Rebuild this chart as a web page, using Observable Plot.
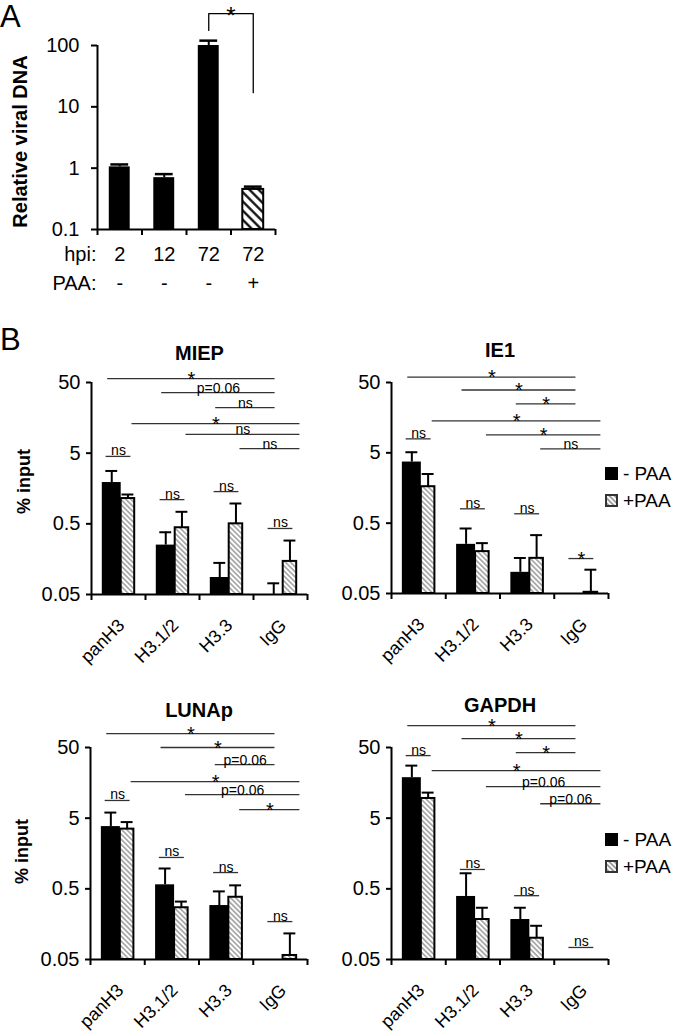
<!DOCTYPE html>
<html>
<head>
<meta charset="utf-8">
<script src="https://cdn.jsdelivr.net/npm/d3@7"></script>
<script src="https://cdn.jsdelivr.net/npm/@observablehq/plot@0.6"></script>
<style>
  body { margin: 0; background: #fff; }
  #fig { position: relative; width: 680px; height: 1033px; overflow: hidden; font-family: "Liberation Sans", Arial, sans-serif; color: #000; }
  #fig > svg { position: absolute; overflow: visible; background: transparent; }
  .plab { position: absolute; font-size: 31px; line-height: 31px; }
  .leg { position: absolute; font-size: 19px; line-height: 19px; display: flex; align-items: center; white-space: pre; }
  #fig .leg svg { position: static; margin-right: 5px; }
</style>
</head>
<body>
<div id="fig"></div>
<script>
// ---------- Panel A data ----------
const hpiLabels = ["2", "12", "72", "72"];
const paaLabels = ["-", "-", "-", "+"];
const viralDNA = [1.05, 0.70, 100, 0.45];
const viralDNAErr = [0.10, 0.10, 20, 0.05];
const viralTicks = [0.1, 1, 10, 100];
const sigAFrom = 2, sigATo = 3, sigALabel = "*";
const sigATop = 332;            // bracket height (relative viral DNA units)
const sigALegEnds = [176, 17];  // where the bracket legs end

// ---------- Panel B data ----------
const groups = ["panH3", "H3.1/2", "H3.3", "IgG"];
const inputTicks = [0.05, 0.5, 5, 50];
const compFrom = [0, 1, 2, 0, 1, 2];           // compared against IgG
const compCond = ["-", "-", "-", "+", "+", "+"];

const miepMinus = [1.92, 0.25, 0.087, 0.05];
const miepMinusErr = [0.88, 0.13, 0.053, 0.022];
const miepPlus = [1.14, 0.44, 0.50, 0.147];
const miepPlusErr = [0.16, 0.30, 0.47, 0.143];
const miepCompLabels = ["*", "p=0.06", "ns", "*", "ns", "ns"];
const miepCompLevels = [56.8, 35.9, 22.1, 13.1, 9.2, 5.8];
const miepPairLabels = ["ns", "ns", "ns", "ns"];
const miepPairLevels = [4.5, 1.1, 1.43, 0.43];

const ie1Minus = [3.7, 0.25, 0.10, null];
const ie1MinusErr = [1.4, 0.17, 0.06, null];
const ie1Plus = [1.65, 0.197, 0.158, 0.052];
const ie1PlusErr = [0.85, 0.063, 0.18, 0.057];
const ie1CompLabels = ["*", "*", "*", "*", "*", "ns"];
const ie1CompLevels = [59.8, 39.1, 24.8, 14.2, 9.0, 5.7];
const ie1PairLabels = ["ns", "ns", "ns", "*"];
const ie1PairLevels = [7.9, 0.8, 0.68, 0.157];

const lunapMinus = [3.8, 0.57, 0.29, null];
const lunapMinusErr = [2.2, 0.40, 0.17, null];
const lunapPlus = [3.5, 0.27, 0.38, 0.057];
const lunapPlusErr = [0.9, 0.06, 0.18, 0.06];
const lunapCompLabels = ["*", "*", "p=0.06", "*", "p=0.06", "*"];
const lunapCompLevels = [78.7, 50, 28.7, 16.5, 10.8, 6.6];
const lunapPairLabels = ["ns", "ns", "ns", "ns"];
const lunapPairLevels = [8.9, 1.39, 0.85, 0.172];

const gapdhMinus = [18.7, 0.39, 0.184, null];
const gapdhMinusErr = [9.0, 0.44, 0.086, null];
const gapdhPlus = [9.5, 0.184, 0.10, null];
const gapdhPlusErr = [2.0, 0.086, 0.05, null];
const gapdhCompLabels = ["*", "*", "*", "*", "p=0.06", "p=0.06"];
const gapdhCompLevels = [102, 66.8, 42.4, 23.5, 14.0, 8.0];
const gapdhPairLabels = ["ns", "ns", "ns", "ns"];
const gapdhPairLevels = [38.4, 0.94, 0.40, 0.074];

const legendLabels = ["- PAA", "+PAA"];

// ---------- helpers ----------
const FONT = '"Liberation Sans", Arial, sans-serif';
const fig = document.getElementById("fig");

function addPattern(svg, id, size, stroke, width, bg) {
  const defs = document.createElementNS("http://www.w3.org/2000/svg", "defs");
  defs.innerHTML = `<pattern id="${id}" patternUnits="userSpaceOnUse" width="${size}" height="${size}" patternTransform="rotate(-45)">
    <rect width="${size}" height="${size}" fill="${bg}"/>
    <line x1="${size/2}" y1="0" x2="${size/2}" y2="${size}" stroke="${stroke}" stroke-width="${width}"/>
  </pattern>`;
  svg.insertBefore(defs, svg.firstChild);
}

function place(svg, left, top) {
  svg.style.left = left + "px";
  svg.style.top = top + "px";
  fig.appendChild(svg);
}

function label(text, left, top) {
  const d = document.createElement("div");
  d.className = "plab";
  d.textContent = text;
  d.style.left = left + "px";
  d.style.top = top + "px";
  fig.appendChild(d);
}

// ---------- Panel A ----------
(function () {
  const bars = viralDNA.map((v, i) => ({i, v, e: viralDNAErr[i], hatched: paaLabels[i] === "+"}));
  const solid = bars.filter(d => !d.hatched);
  const hatched = bars.filter(d => d.hatched);
  const bracket = [
    {x: sigAFrom, y: sigALegEnds[0]},
    {x: sigAFrom, y: sigATop},
    {x: sigATo, y: sigATop},
    {x: sigATo, y: sigALegEnds[1]}
  ];
  const svg = Plot.plot({
    width: 300, height: 300,
    marginLeft: 97, marginRight: 25, marginTop: 45, marginBottom: 71,
    style: {fontFamily: FONT, fontSize: "20px", background: "transparent", overflow: "visible"},
    x: {domain: [-0.5, 3.5], axis: null},
    y: {type: "log", domain: [0.1, 100], axis: null, label: null},
    marks: [
      Plot.rect(solid, {x1: d => d.i - 0.235, x2: d => d.i + 0.235, y1: 0.1, y2: "v", fill: "black"}),
      Plot.rect(hatched, {x1: d => d.i - 0.235, x2: d => d.i + 0.235, y1: 0.1, y2: "v", fill: "url(#hatchA)", stroke: "black", strokeWidth: 2}),
      Plot.ruleX(bars, {x: "i", y1: "v", y2: d => d.v + d.e, stroke: "black", strokeWidth: 2}),
      Plot.ruleY(bars, {y: d => d.v + d.e, x1: d => d.i - 0.2, x2: d => d.i + 0.2, stroke: "black", strokeWidth: 2.5}),
      Plot.ruleX([-0.5], {stroke: "black", strokeWidth: 2}),
      Plot.ruleY([0.1], {stroke: "black", strokeWidth: 2}),
      Plot.axisY({ticks: viralTicks, tickFormat: () => "", tickSize: 6, strokeWidth: 2, label: null}),
      Plot.text(viralTicks, {y: d => d, text: d => String(d), frameAnchor: "left", textAnchor: "end", dx: -18, fontSize: 20}),
      Plot.axisX({ticks: [-0.5, 0.5, 1.5, 2.5, 3.5], tickFormat: () => "", tickSize: 6, strokeWidth: 2, label: null}),
      Plot.text(hpiLabels, {x: (d, i) => i, text: d => d, frameAnchor: "bottom", dy: 31, fontSize: 20}),
      Plot.text(paaLabels, {x: (d, i) => i, text: d => d, frameAnchor: "bottom", dy: 60, fontSize: 20}),
      Plot.text(["hpi:"], {text: d => d, frameAnchor: "bottom-left", textAnchor: "end", dy: 31, dx: -1, fontSize: 20}),
      Plot.text(["PAA:"], {text: d => d, frameAnchor: "bottom-left", textAnchor: "end", dy: 60, dx: -1, fontSize: 20}),
      Plot.text(["Relative viral DNA"], {text: d => d, frameAnchor: "left", textAnchor: "middle", rotate: -90, dx: -77, dy: 4, fontWeight: "bold", fontSize: 20}),
      Plot.line(bracket, {x: "x", y: "y", stroke: "black", strokeWidth: 1.3}),
      Plot.text([sigALabel], {x: () => (sigAFrom + sigATo) / 2, y: () => sigATop, text: d => d, lineAnchor: "bottom", dy: 10, fontSize: 24})
    ]
  });
  addPattern(svg, "hatchA", 6.5, "black", 2.2, "white");
  place(svg, 0, 0);
})();

// ---------- Panel B ----------
function panelB(cfg) {
  const pid = "hatch-" + cfg.id;
  const black = groups.map((g, i) => ({i, v: cfg.minus[i], e: cfg.minusErr[i]})).filter(d => d.v != null);
  const hatch = groups.map((g, i) => ({i, v: cfg.plus[i], e: cfg.plusErr[i]})).filter(d => d.v != null);
  const blackErr = black.filter(d => d.e != null);
  const hatchErr = hatch.filter(d => d.e != null);
  const comps = cfg.compLabels.map((lab, k) => ({label: lab, level: cfg.compLevels[k], from: compFrom[k], cond: compCond[k]}));
  const cx1 = d => d.from + (d.cond === "-" ? -0.2 : 0.25);
  const cx2 = d => 3 + (d.cond === "-" ? -0.1 : 0.36);
  const pairs = groups.map((g, i) => ({i, label: cfg.pairLabels[i], level: cfg.pairLevels[i]}));
  const star = d => d.label === "*";
  const cb = -0.125, ch = 0.175, cap = 0.11;
  const marks = [
    Plot.rect(black, {x1: d => d.i - 0.30, x2: d => d.i + 0.05, y1: 0.05, y2: "v", fill: "black"}),
    Plot.rect(hatch, {x1: d => d.i + 0.05, x2: d => d.i + 0.30, y1: 0.05, y2: "v", fill: `url(#${pid})`, stroke: "black", strokeWidth: 2}),
    Plot.ruleX(blackErr, {x: d => d.i + cb, y1: "v", y2: d => d.v + d.e, stroke: "black", strokeWidth: 2}),
    Plot.ruleY(blackErr, {y: d => d.v + d.e, x1: d => d.i + cb - cap, x2: d => d.i + cb + cap, stroke: "black", strokeWidth: 2}),
    Plot.ruleX(hatchErr, {x: d => d.i + ch, y1: "v", y2: d => d.v + d.e, stroke: "black", strokeWidth: 2}),
    Plot.ruleY(hatchErr, {y: d => d.v + d.e, x1: d => d.i + ch - cap, x2: d => d.i + ch + cap, stroke: "black", strokeWidth: 2}),
    Plot.ruleX([-0.5], {stroke: "black", strokeWidth: 2}),
    Plot.ruleY([0.05], {stroke: "black", strokeWidth: 2}),
    Plot.axisY({ticks: inputTicks, tickFormat: () => "", tickSize: 5, strokeWidth: 2, label: null}),
    Plot.text(inputTicks, {y: d => d, text: d => String(d), frameAnchor: "left", textAnchor: "end", dx: -11, fontSize: 20}),
    Plot.axisX({ticks: [-0.5, 0.5, 1.5, 2.5, 3.5], tickFormat: () => "", tickSize: 6, strokeWidth: 2, label: null}),
    Plot.text(groups, {x: (d, i) => i, text: d => d, frameAnchor: "bottom", rotate: -45, textAnchor: "end", dx: 7, dy: 32, fontSize: 18}),
    Plot.text([cfg.name], {text: d => d, frameAnchor: "top", dy: cfg.titleDy, fontWeight: "bold", fontSize: 20}),
    // comparisons against IgG
    Plot.ruleY(comps, {y: "level", x1: cx1, x2: cx2, stroke: "#333", strokeWidth: 1.3}),
    Plot.text(comps.filter(d => !star(d)), {x: d => (cx1(d) + cx2(d)) / 2, y: "level", text: "label", lineAnchor: "bottom", dy: 0, fontSize: 14}),
    Plot.text(comps.filter(star), {x: d => (cx1(d) + cx2(d)) / 2, y: "level", text: "label", lineAnchor: "bottom", dy: 7, fontSize: 20}),
    // -PAA vs +PAA within each antibody
    Plot.ruleY(pairs, {y: "level", x1: d => d.i - 0.23, x2: d => d.i + 0.23, stroke: "#333", strokeWidth: 1.3}),
    Plot.text(pairs.filter(d => !star(d)), {x: "i", y: "level", text: "label", lineAnchor: "bottom", dy: -1, fontSize: 14}),
    Plot.text(pairs.filter(star), {x: "i", y: "level", text: "label", lineAnchor: "bottom", dy: 7, fontSize: 20})
  ];
  if (cfg.yLabel) {
    marks.push(Plot.text([cfg.yLabel], {text: d => d, frameAnchor: "left", textAnchor: "middle", rotate: -90, dx: cfg.yLabelDx, dy: cfg.yLabelDy, fontWeight: "bold", fontSize: 18}));
  }
  const svg = Plot.plot({
    width: cfg.width, height: cfg.height,
    marginLeft: cfg.mL, marginRight: cfg.mR, marginTop: cfg.mT, marginBottom: cfg.mB,
    style: {fontFamily: FONT, fontSize: "14px", background: "transparent", overflow: "visible"},
    x: {domain: [-0.5, 3.5], axis: null},
    y: {type: "log", domain: [0.05, 50], axis: null, label: null},
    marks
  });
  addPattern(svg, pid, 3.6, "#8a8a8a", 1.3, "white");
  place(svg, cfg.left, cfg.top);
}

function legend(left, top) {
  legendLabels.forEach((txt, k) => {
    const d = document.createElement("div");
    d.className = "leg";
    d.style.left = left + "px";
    d.style.top = (top + k * 27) + "px";
    const fill = k === 0 ? "black" : "url(#hatch-leg)";
    d.innerHTML = `<svg width="13" height="13" viewBox="0 0 13 13">
      ${k === 1 ? `<defs><pattern id="hatch-leg" patternUnits="userSpaceOnUse" width="3.6" height="3.6" patternTransform="rotate(-45)"><rect width="3.6" height="3.6" fill="white"/><line x1="1.8" y1="0" x2="1.8" y2="3.6" stroke="#777" stroke-width="1.3"/></pattern></defs>` : ""}
      <rect x="1" y="1" width="11" height="11" fill="${fill}" stroke="${k === 0 ? "black" : "#333"}" stroke-width="2"/></svg><span>${txt}</span>`;
    fig.appendChild(d);
  });
}

label("A", 0, 1);
label("B", 0, 324);

panelB({id: "miep", name: "MIEP", minus: miepMinus, minusErr: miepMinusErr, plus: miepPlus, plusErr: miepPlusErr,
  compLabels: miepCompLabels, compLevels: miepCompLevels, pairLabels: miepPairLabels, pairLevels: miepPairLevels,
  yLabel: "% input", yLabelDx: -67, yLabelDy: -7, titleDy: -37,
  left: 0, top: 320, width: 330, height: 330, mL: 91, mR: 23, mT: 62, mB: 56});
panelB({id: "ie1", name: "IE1", minus: ie1Minus, minusErr: ie1MinusErr, plus: ie1Plus, plusErr: ie1PlusErr,
  compLabels: ie1CompLabels, compLevels: ie1CompLevels, pairLabels: ie1PairLabels, pairLevels: ie1PairLevels,
  titleDy: -40,
  left: 330, top: 320, width: 350, height: 330, mL: 61, mR: 72, mT: 62, mB: 57});
panelB({id: "lunap", name: "LUNAp", minus: lunapMinus, minusErr: lunapMinusErr, plus: lunapPlus, plusErr: lunapPlusErr,
  compLabels: lunapCompLabels, compLevels: lunapCompLevels, pairLabels: lunapPairLabels, pairLevels: lunapPairLevels,
  yLabel: "% input", yLabelDx: -68, yLabelDy: -2, titleDy: -45,
  left: 0, top: 680, width: 330, height: 353, mL: 90, mR: 23, mT: 67, mB: 74});
panelB({id: "gapdh", name: "GAPDH", minus: gapdhMinus, minusErr: gapdhMinusErr, plus: gapdhPlus, plusErr: gapdhPlusErr,
  compLabels: gapdhCompLabels, compLevels: gapdhCompLevels, pairLabels: gapdhPairLabels, pairLevels: gapdhPairLevels,
  titleDy: -50,
  left: 330, top: 680, width: 350, height: 353, mL: 61, mR: 72, mT: 67, mB: 74});

legend(605, 464);
legend(605, 830);
</script>
</body>
</html>
